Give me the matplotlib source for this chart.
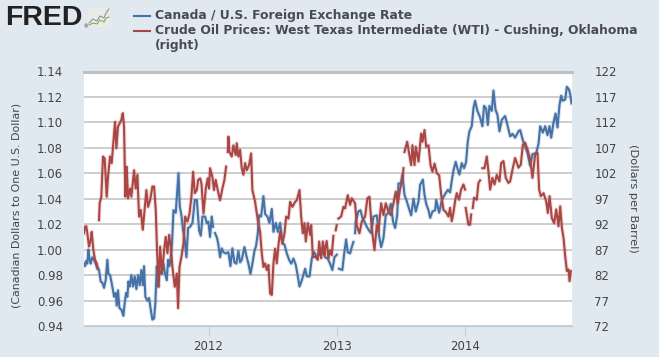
import matplotlib
matplotlib.use("Agg")
import matplotlib.pyplot as plt
from matplotlib.patches import Rectangle
import numpy as np

nan = float("nan")

cad_years = [
2011.030,2011.038,2011.046,2011.056,2011.064,2011.074,2011.082,2011.095,2011.108,2011.121,2011.134,2011.147,2011.160,2011.173,2011.186,2011.199,2011.212,2011.220,2011.233,2011.243,
2011.256,2011.264,2011.277,2011.285,2011.295,2011.306,2011.321,2011.337,2011.347,2011.358,2011.368,2011.376,2011.386,2011.399,2011.412,2011.425,2011.438,2011.451,2011.464,2011.477,
2011.488,2011.498,2011.508,2011.524,2011.537,2011.550,2011.563,2011.576,2011.586,2011.597,2011.607,2011.618,2011.633,2011.649,2011.662,2011.675,2011.685,2011.696,2011.706,2011.716,
2011.727,2011.745,2011.766,2011.776,2011.789,2011.802,2011.815,2011.828,2011.841,2011.857,2011.875,2011.893,2011.909,2011.927,2011.940,2011.953,
2011.973,2011.986,2011.999,2012.012,2012.025,2012.035,2012.043,2012.051,2012.067,2012.077,2012.090,2012.103,2012.116,2012.134,2012.155,2012.171,2012.186,2012.202,2012.217,2012.233,
2012.246,2012.259,2012.280,2012.298,2012.311,2012.327,2012.342,2012.358,2012.371,2012.384,2012.394,2012.410,2012.428,2012.441,2012.459,2012.475,2012.493,2012.506,2012.524,2012.540,
2012.558,2012.576,2012.592,2012.610,2012.628,2012.644,2012.662,2012.680,2012.696,2012.709,2012.727,2012.753,2012.766,2012.787,2012.805,2012.823,2012.844,2012.870,2012.896,
2012.908,2012.929,2012.947,2012.965,2012.981,2012.999,2013.008,2013.017,2013.043,2013.056,2013.072,2013.085,2013.103,2013.116,2013.129,2013.135,2013.142,2013.147,2013.168,2013.184,
2013.199,2013.215,2013.233,2013.251,2013.267,2013.285,2013.311,2013.329,2013.345,2013.363,2013.381,2013.402,2013.420,2013.438,2013.454,2013.470,2013.480,2013.498,2013.511,2013.527,
2013.545,2013.563,2013.579,2013.597,2013.615,2013.636,2013.649,2013.670,2013.683,2013.696,2013.714,2013.727,2013.745,2013.766,2013.774,2013.797,2013.818,2013.839,2013.865,
2013.882,2013.895,2013.908,2013.926,2013.939,2013.955,2013.973,2013.991,2014.007,2014.020,2014.033,2014.051,2014.064,2014.077,2014.095,2014.116,2014.134,2014.147,2014.163,2014.176,
2014.189,2014.207,2014.220,2014.236,2014.251,2014.267,2014.285,2014.311,2014.329,2014.350,2014.368,2014.389,2014.415,2014.428,2014.449,2014.467,2014.485,2014.506,2014.524,2014.553,
2014.571,2014.584,2014.605,2014.623,2014.641,2014.657,2014.670,2014.688,2014.704,2014.719,2014.735,2014.748,2014.758,2014.779,2014.792,2014.808,2014.818,2014.828,
]
cad_values = [
.989,.987,.991,.989,1.000,.992,.989,.994,.992,.989,.985,.984,.975,.974,.970,.976,.992,.981,.980,.975,
.968,.963,.966,.956,.968,.954,.953,.948,.958,.966,.963,.975,.971,.980,.971,.979,.969,.980,.972,.984,
.972,.987,.963,.960,.962,.953,.945,.946,.958,.987,.971,.984,.981,.989,.981,.976,.992,.987,.994,1.005,
1.031,1.029,1.060,1.034,1.027,1.015,1.008,.994,1.017,1.018,1.021,1.039,1.039,1.015,1.011,1.026,
1.026,1.021,1.022,1.010,1.026,1.018,nan,1.013,1.009,1.004,.994,1.001,.998,.997,.998,.987,1.001,.990,.989,.999,
.990,.992,1.002,.994,.989,.981,.989,.999,1.003,1.013,1.027,1.026,1.042,1.028,1.026,1.021,1.032,1.014,1.021,1.014,
1.021,1.005,1.004,.997,.992,.989,.993,.988,.979,.971,.976,.985,.979,.979,.993,.998,.994,.997,.998,
.994,.993,.989,.984,.994,.996,nan,.985,.984,.996,1.008,.998,.997,1.002,1.006,nan,1.013,1.022,1.030,1.031,
1.025,1.022,1.018,1.015,1.013,1.026,1.027,1.011,1.002,1.009,1.027,1.029,1.036,1.022,1.017,1.027,1.052,1.052,1.059,1.043,
1.038,1.032,1.027,1.040,1.030,1.038,1.051,1.055,1.043,1.036,1.031,1.025,1.030,1.031,1.039,1.029,1.039,1.043,1.047,
1.045,1.054,1.062,1.069,1.064,1.059,1.068,1.064,1.069,1.085,1.093,1.097,1.111,1.117,1.109,1.104,1.097,1.113,1.111,1.098,
1.113,1.109,1.125,1.110,1.106,1.093,1.102,1.105,1.098,1.089,1.091,1.088,1.093,1.094,1.086,1.081,1.076,1.066,1.075,1.076,
1.083,1.097,1.092,1.097,1.090,1.097,1.088,1.100,1.107,1.096,1.114,1.121,1.117,1.118,1.128,1.126,1.122,1.115,
]

oil_years = [
2011.030,2011.038,2011.048,2011.056,2011.069,2011.082,2011.090,2011.103,2011.116,2011.129,2011.139,2011.143,2011.147,2011.152,2011.165,2011.178,2011.191,2011.207,2011.217,2011.233,
2011.246,2011.259,2011.272,2011.282,2011.295,2011.308,2011.321,2011.332,2011.342,2011.352,2011.363,2011.373,2011.389,2011.399,2011.412,2011.420,2011.433,2011.446,2011.459,2011.472,
2011.488,2011.503,2011.516,2011.529,2011.545,2011.563,2011.576,2011.589,2011.599,2011.612,2011.623,2011.638,2011.654,2011.667,2011.680,2011.693,2011.706,2011.719,2011.737,2011.753,
2011.763,2011.774,2011.789,2011.805,2011.818,2011.836,2011.852,2011.867,2011.880,2011.893,2011.909,2011.919,2011.935,2011.945,2011.961,
2011.979,2011.994,2012.004,2012.012,2012.030,2012.043,2012.056,2012.072,2012.090,2012.108,2012.124,2012.137,2012.143,2012.150,2012.155,2012.163,2012.181,2012.194,2012.212,2012.220,
2012.233,2012.246,2012.259,2012.272,2012.285,2012.298,2012.316,2012.332,2012.342,2012.363,2012.384,2012.402,2012.415,2012.428,2012.441,2012.454,2012.467,2012.480,2012.493,2012.506,
2012.519,2012.532,2012.545,2012.558,2012.576,2012.592,2012.605,2012.623,2012.636,2012.654,2012.675,2012.688,2012.709,2012.722,2012.735,2012.748,2012.758,2012.774,2012.792,2012.800,
2012.813,2012.831,2012.852,2012.862,2012.878,2012.891,2012.904,
2012.908,2012.921,2012.934,2012.947,2012.960,2012.973,2012.982,2012.991,2012.999,2013.005,2013.012,2013.033,2013.051,2013.064,2013.085,2013.103,2013.116,2013.142,2013.155,2013.176,
2013.194,2013.220,2013.238,2013.254,2013.272,2013.293,2013.311,2013.324,2013.345,2013.363,2013.381,2013.402,2013.420,2013.441,2013.459,2013.475,2013.493,2013.511,2013.519,2013.523,
2013.527,2013.548,2013.563,2013.579,2013.589,2013.605,2013.615,2013.636,2013.657,2013.667,2013.683,2013.696,2013.714,2013.730,2013.745,2013.761,2013.779,2013.797,2013.813,2013.831,
2013.849,2013.870,2013.882,2013.895,2013.908,2013.921,2013.934,2013.952,2013.968,2013.986,2013.999,2014.001,2014.004,2014.017,2014.025,2014.038,2014.046,2014.052,2014.059,2014.069,
2014.090,2014.103,2014.116,2014.125,2014.134,2014.150,2014.168,2014.181,2014.194,2014.212,2014.228,2014.246,2014.267,2014.280,2014.298,2014.316,2014.337,2014.350,2014.368,2014.389,
2014.415,2014.433,2014.449,2014.467,2014.485,2014.506,2014.524,2014.545,2014.563,2014.576,2014.589,2014.610,2014.631,2014.644,2014.657,2014.675,2014.693,2014.709,2014.727,2014.740,
2014.753,2014.766,2014.779,2014.792,2014.805,2014.813,2014.823,
]
oil_values = [
90.2,91.5,91.6,90.2,87.6,88.9,90.5,86.9,85.0,84.3,83.3,nan,92.8,96.1,97.4,105.3,104.9,97.4,101.3,105.3,
104.0,108.2,112.1,106.9,111.2,111.8,112.5,113.8,111.2,97.4,103.3,97.1,99.0,97.4,100.7,102.6,99.0,101.7,93.5,94.8,
90.9,95.1,98.7,95.4,96.7,99.4,99.4,94.8,86.9,79.7,87.6,82.3,86.9,89.5,86.3,89.9,87.6,83.6,79.7,82.3,
75.5,83.6,85.6,88.2,93.5,92.5,94.1,97.4,102.3,98.1,98.7,100.7,101.0,100.0,94.1,
99.0,101.0,99.0,103.0,101.3,98.7,100.7,98.7,96.7,99.0,100.7,103.3,nan,106.2,109.2,106.2,105.3,107.5,105.6,107.9,
105.3,106.6,103.0,101.7,104.0,102.6,103.6,105.9,98.7,96.4,92.8,90.5,86.3,83.6,84.3,83.0,84.0,78.4,78.1,84.3,
87.2,84.3,87.9,90.5,88.2,90.2,93.5,93.1,96.4,95.4,96.4,96.7,98.7,93.5,90.2,92.2,88.6,92.2,89.9,91.8,
85.6,85.6,85.0,88.6,85.3,88.6,85.9,
87.2,88.7,85.3,86.9,85.9,89.7,nan,90.8,91.8,nan,93.1,93.5,95.4,95.1,97.7,95.8,97.1,96.1,91.8,90.2,
92.5,93.5,97.1,97.4,91.2,86.9,91.8,90.5,96.1,93.8,96.1,94.4,93.8,96.1,98.4,96.1,99.0,100.7,103.0,nan,
106.2,108.2,105.9,103.6,107.5,103.6,107.2,104.3,109.8,108.2,110.5,107.2,107.5,103.6,102.3,103.9,102.0,101.6,97.7,94.8,
94.4,93.5,95.2,92.6,94.2,96.5,98.1,96.8,98.8,99.8,98.8,nan,95.2,93.2,91.9,91.9,93.9,nan,95.2,97.2,
96.8,100.1,100.6,nan,103.0,103.0,105.3,102.4,98.8,101.1,99.8,101.7,100.4,104.0,104.4,101.1,100.1,100.4,102.7,105.0,
103.1,103.7,107.6,108.0,106.7,104.7,101.1,105.7,106.0,98.8,97.5,98.1,96.5,94.2,97.5,93.2,92.2,94.9,91.6,95.5,
91.3,89.3,85.7,82.8,83.1,80.8,82.8,
]

left_ticks = [0.94, 0.96, 0.98, 1.00, 1.02, 1.04, 1.06, 1.08, 1.10, 1.12, 1.14]
right_ticks = [72, 77, 82, 87, 92, 97, 102, 107, 112, 117, 122]
year_ticks = [2012, 2013, 2014]
legend_labels = ["Canada / U.S. Foreign Exchange Rate",
                 "Crude Oil Prices: West Texas Intermediate (WTI) - Cushing, Oklahoma\n(right)"]

BG = "#E1E9F0"
TXT = "#444444"
BLUE = "#4572A7"
RED = "#AA4643"
W, H = 659, 357

plt.rcParams["font.family"] = ["DejaVu Sans"]
fig = plt.figure(figsize=(W / 100, H / 100), dpi=100, facecolor=BG)
ax = fig.add_axes([84 / W, 1 - 326 / H, (572 - 84) / W, (326 - 71.5) / H])
ax.set_facecolor("white")
ax.set_xlim(2011.03, 2014.832)
ax.set_ylim(0.94, 1.14)
ax.set_yticks(left_ticks)
ax.set_yticklabels([f"{v:.2f}" for v in left_ticks])
ax.set_xticks(year_ticks)
ax.set_xticklabels([str(y) for y in year_ticks])
ax.grid(axis="y", color="#C0C0C0", lw=1.1, zorder=0)
ax.set_axisbelow(True)
for s in ("left", "right"):
    ax.spines[s].set_visible(False)
ax.spines["top"].set_color("#C0C0C0")
ax.spines["top"].set_linewidth(2.2)
ax.spines["bottom"].set_color("#C0D0E0")
ax.spines["bottom"].set_linewidth(1.0)
ax.tick_params(axis="y", length=0, pad=15, labelsize=8.5, labelcolor=TXT)
ax.tick_params(axis="x", length=7, width=0.8, color="#C0D0E0", pad=3, labelsize=8.5, labelcolor=TXT)
ax.set_ylabel("(Canadian Dollars to One U.S. Dollar)", fontsize=7.9, color=TXT)
ax.yaxis.set_label_coords(-62 / 488, 0.5 - 6.7 / 254.5)

ax.plot(cad_years, cad_values, color=BLUE, lw=3.0, alpha=0.18, zorder=2, solid_joinstyle="round")
ax.plot(cad_years, cad_values, color=BLUE, lw=1.5, zorder=3, solid_joinstyle="round")

ax2 = ax.twinx()
ax2.set_ylim(72, 122)
ax2.set_yticks(right_ticks)
ax2.set_yticklabels([str(v) for v in right_ticks])
ax2.tick_params(axis="y", length=0, pad=16, labelsize=8.5, labelcolor=TXT)
for s in ax2.spines.values():
    s.set_visible(False)
ax2.set_ylabel("(Dollars per Barrel)", fontsize=8.2, color=TXT, rotation=270)
ax2.yaxis.set_label_coords(1 + 66 / 488, 0.5)
ax2.plot(oil_years, oil_values, color=RED, lw=3.0, alpha=0.18, zorder=2, solid_joinstyle="round")
ax2.plot(oil_years, oil_values, color=RED, lw=1.5, zorder=3, solid_joinstyle="round")

# Legend
LEG = "#4A4A55"
fig.add_artist(plt.Line2D([134 / W, 150 / W], [1 - 16 / H] * 2, color=BLUE, lw=1.5))
fig.add_artist(plt.Line2D([134 / W, 150 / W], [1 - 31 / H] * 2, color=RED, lw=1.5))
fig.text(155 / W, 1 - 15.5 / H, legend_labels[0], fontsize=8.9, fontweight="bold", color=LEG, va="center")
fig.text(155 / W, 1 - 24 / H, legend_labels[1], fontsize=8.9, fontweight="bold", color=LEG,
         va="top", linespacing=1.15)

# FRED logo
fig.text(5 / W, 1 - 18 / H, "FRED", fontsize=20.5, fontweight="bold", color="#222222",
         va="center", family=["Liberation Sans", "DejaVu Sans"])
fig.text(83 / W, 1 - 26.5 / H, "®", fontsize=3.5, color="#222222", va="center")
fig.add_artist(Rectangle((88 / W, 1 - 27 / H), 22 / W, 19 / H, transform=fig.transFigure,
                         facecolor="#E8EBE6", edgecolor="none"))
icon_x = np.array([89, 93, 97, 100, 104, 106, 109]) / W
fig.add_artist(plt.Line2D(icon_x, 1 - np.array([23, 19, 21, 16, 18, 13, 9]) / H, color="#7A8A99", lw=0.7))
fig.add_artist(plt.Line2D(icon_x, 1 - np.array([25, 23, 24, 20, 22, 18, 17]) / H, color="#7FA050", lw=0.7))

fig.savefig("out.png", dpi=100, facecolor=BG)
